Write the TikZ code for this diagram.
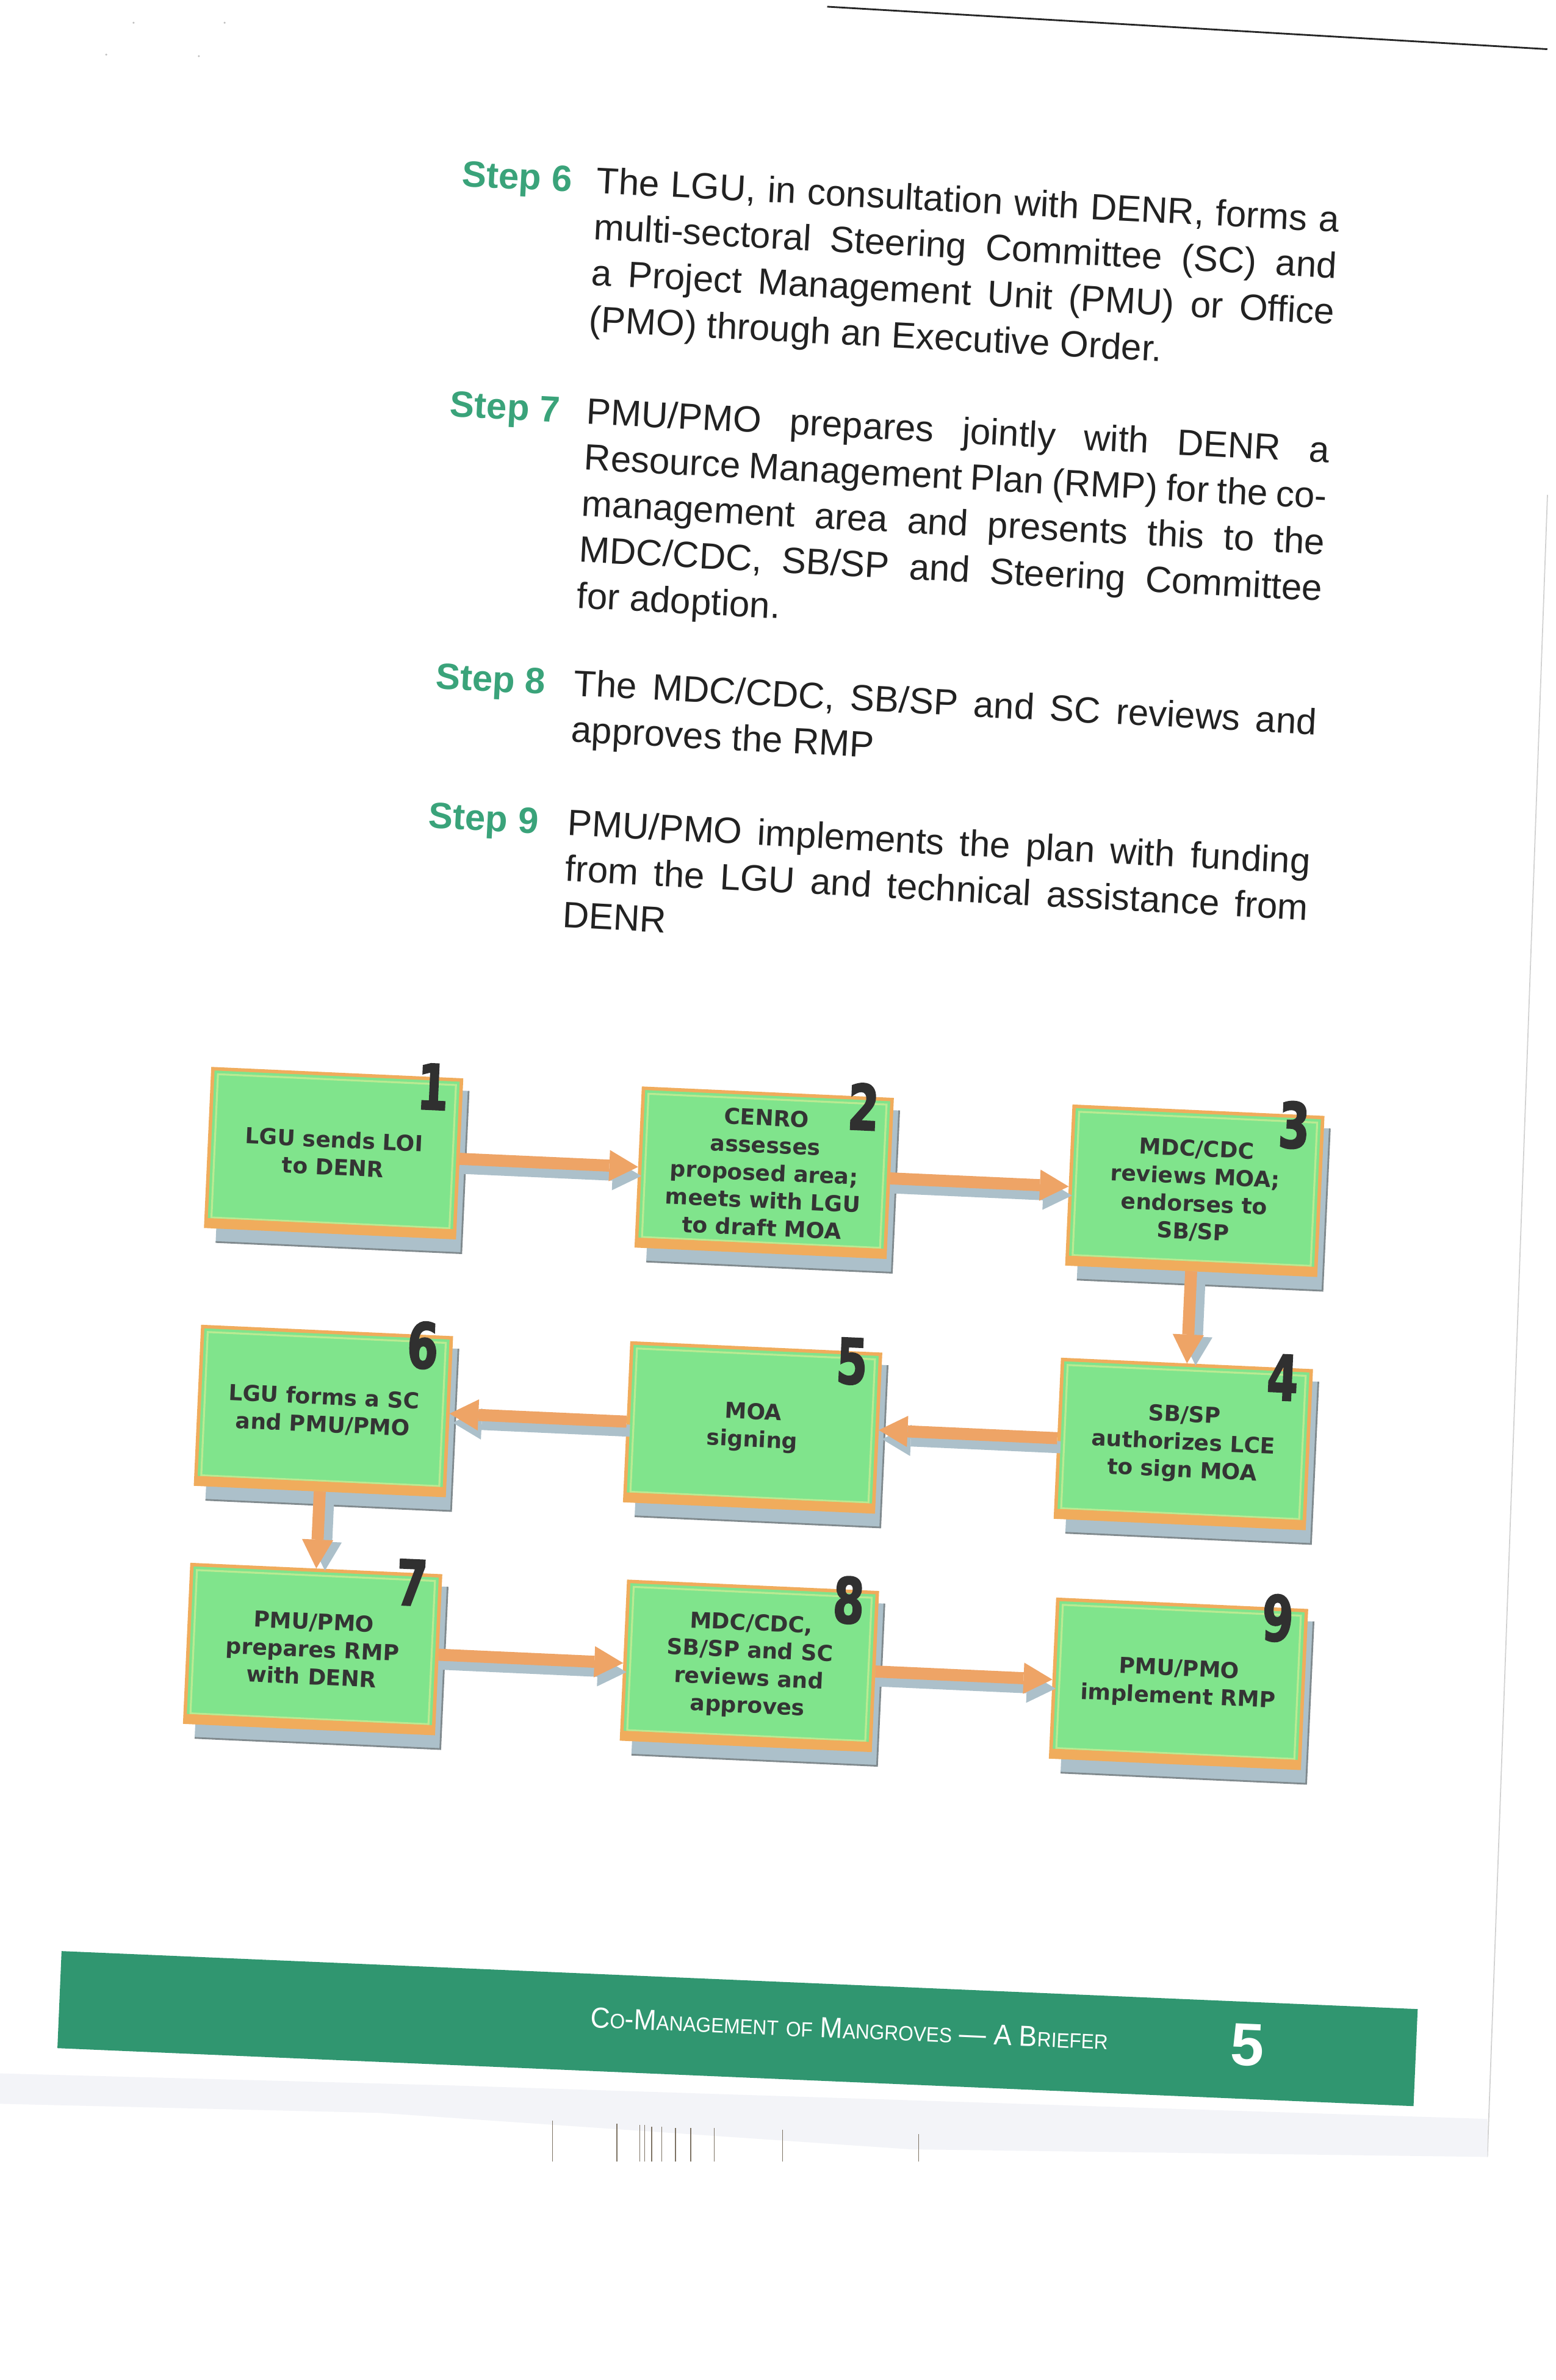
\documentclass[tikz,border=0pt]{standalone}
\usepackage{fontspec}
\usepackage{graphicx}
\setmainfont{Liberation Sans}
\newfontfamily\boxfont{DejaVu Sans}
\newfontfamily\numfont[FakeBold=2.5]{DejaVu Sans}
\usetikzlibrary{arrows.meta}

\definecolor{bargreen}{RGB}{48,150,112}
\definecolor{stepgreen}{RGB}{58,163,122}
\definecolor{inkc}{RGB}{34,34,34}
\definecolor{boxgreen}{RGB}{128,228,140}
\definecolor{boxorange}{RGB}{240,172,92}
\definecolor{arroworange}{RGB}{238,164,102}
\definecolor{shadowc}{RGB}{172,192,202}
\definecolor{shadowln}{RGB}{128,138,142}
\definecolor{innerc}{RGB}{186,234,146}
\definecolor{numc}{RGB}{48,48,48}
\definecolor{boxtext}{RGB}{52,52,52}
\definecolor{smudge}{RGB}{243,244,248}
\definecolor{barcode}{RGB}{125,115,100}

\newlength\jw \setlength\jw{345.5pt}
\newcommand\smc[1]{{\fontsize{9.3}{9.3}\selectfont #1}}

\tikzset{
  steplabel/.style={anchor=base west, inner sep=0pt, text=stepgreen,
    font=\fontsize{17}{20}\selectfont\bfseries},
  bodyline/.style={anchor=base west, inner sep=0pt, text=inkc,
    font=\fontsize{17}{20}\selectfont},
  stepnode/.style={rectangle, minimum width=115.6pt, minimum height=73.3pt,
    inner sep=0pt, fill=boxgreen, draw=boxorange, line width=1.6pt,
    align=center, text=boxtext,
    font=\boxfont\bfseries\fontsize{10.2}{12.8}\selectfont},
  innerframe/.style={draw=innerc, line width=0.9pt},
  shadowedge/.style={draw=shadowln, line width=0.8pt},
  numnode/.style={anchor=north east, inner sep=0pt, text=numc,
    font=\numfont\bfseries\fontsize{29}{29}\selectfont},
  flowarrow/.style={draw=arroworange, line width=5.6pt,
    -{Triangle[length=13.4pt,width=14.5pt,line width=0pt]}},
  arrowshade/.style={draw=shadowc, line width=5.6pt,
    -{Triangle[length=13.4pt,width=14.5pt,line width=0pt]}},
}

% name, x-left, y-top, number, text
\newcommand\flowbox[5]{%
  \fill[shadowc] (#2+7,#3+7) rectangle (#2+169,#3+114);
  \draw[shadowedge] (#2+7,#3+114) -- (#2+169,#3+114) -- (#2+169,#3+7);
  \node[stepnode] (#1) at (#2+82,#3+52) {#5};
  \draw[innerframe] (#2+3.5,#3+3.5) rectangle (#2+160.5,#3+98);
  \fill[boxorange] (#2,#3+98.5) rectangle (#2+164,#3+104);
  \node[numnode] (#1n) at (#2+156,#3-10) {\scalebox{0.72}[1]{#4}};
}

\begin{document}
\begin{tikzpicture}[x=0.705pt,y=-0.705pt]
\useasboundingbox (0,0) rectangle (1025,1568);
\fill[white] (0,0) rectangle (1025,1568);

% scan artefacts
\draw[black!85, line width=0.8pt] (545,4.4) -- (1019.5,32.4);
\draw[black!18, line width=0.5pt] (1019.6,326) -- (980,1421);
\foreach \px/\py in {88/15,148/15,70/36,131/37}
  \fill[black!25] (\px,\py) circle (0.7);
\fill[smudge] (0,1366) -- (300,1374) -- (980,1396) -- (980,1421) -- (600,1416) -- (250,1392) -- (0,1386) -- cycle;
\foreach \bx/\by in {364/1397,406.5/1399,421.6/1400,424.8/1400,429.3/1401,436/1401,445/1402,455/1402,470.6/1402,515.7/1403,605.3/1406}
  \draw[barcode, line width=0.45pt] (\bx,\by) -- (\bx,1424);

% ---------------- step text ----------------
\begin{scope}[rotate around={-3:(630,350)}, transform shape]
  \node[steplabel] (l6) at (292.5,140) {Step 6};
  \node[bodyline] (t6a) at (381,140) {\makebox[\jw][s]{The LGU, in consultation with DENR, forms a}};
  \node[bodyline] (t6b) at (381,170.4) {\makebox[\jw][s]{multi-sectoral Steering Committee (SC) and}};
  \node[bodyline] (t6c) at (381,200.8) {\makebox[\jw][s]{a Project Management Unit (PMU) or Office}};
  \node[bodyline] (t6d) at (381,231.2) {(PMO) through an Executive Order.};

  \node[steplabel] (l7) at (292.5,292) {Step 7};
  \node[bodyline] (t7a) at (382.6,292) {\makebox[\jw][s]{PMU/PMO prepares jointly with DENR a}};
  \node[bodyline] (t7b) at (382.6,322.4) {\makebox[\jw][s]{Resource Management Plan (RMP) for the co-}};
  \node[bodyline] (t7c) at (382.6,352.8) {\makebox[\jw][s]{management area and presents this to the}};
  \node[bodyline] (t7d) at (382.6,383.2) {\makebox[\jw][s]{MDC/CDC, SB/SP and Steering Committee}};
  \node[bodyline] (t7e) at (382.6,413.6) {for adoption.};

  \node[steplabel] (l8) at (292.5,471.4) {Step 8};
  \node[bodyline] (t8a) at (383.5,471.4) {\makebox[\jw][s]{The MDC/CDC, SB/SP and SC reviews and}};
  \node[bodyline] (t8b) at (383.5,501.8) {approves the RMP};

  \node[steplabel] (l9) at (292.5,563.3) {Step 9};
  \node[bodyline] (t9a) at (384.2,563.3) {\makebox[\jw][s]{PMU/PMO implements the plan with funding}};
  \node[bodyline] (t9b) at (384.2,593.7) {\makebox[\jw][s]{from the LGU and technical assistance from}};
  \node[bodyline] (t9c) at (384.2,624.1) {DENR};
\end{scope}

% ---------------- flow chart ----------------
\begin{scope}[rotate around={-2.6:(512,784)}, transform shape]
  \flowbox{b1}{137}{721}{1}{LGU sends LOI\\to DENR}
  \flowbox{b2}{421}{721}{2}{CENRO\\assesses\\proposed area;\\meets with LGU\\to draft MOA}
  \flowbox{b3}{705}{720}{3}{MDC/CDC\\reviews MOA;\\endorses to\\SB/SP}
  \flowbox{b4}{705}{887}{4}{SB/SP\\authorizes LCE\\to sign MOA}
  \flowbox{b5}{421}{889}{5}{MOA\\signing}
  \flowbox{b6}{138}{891}{6}{LGU forms a SC\\and PMU/PMO}
  \flowbox{b7}{138}{1048}{7}{PMU/PMO\\prepares RMP\\with DENR}
  \flowbox{b8}{426}{1046}{8}{MDC/CDC,\\SB/SP and SC\\reviews and\\approves}
  \flowbox{b9}{709}{1045}{9}{PMU/PMO\\implement RMP}

  % arrow shadows
  \begin{scope}[transform canvas={shift={(1.5pt,-4.2pt)}}]
    \draw[arrowshade] (b1.east) -- (b1.east -| b2.west);
    \draw[arrowshade] (b2.east) -- (b2.east -| b3.west);
    \draw[arrowshade] (b4.west) -- (b4.west -| b5.east);
    \draw[arrowshade] (b5.west) -- (b5.west -| b6.east);
    \draw[arrowshade] (b7.east) -- (b7.east -| b8.west);
    \draw[arrowshade] (b8.east) -- (b8.east -| b9.west);
  \end{scope}
  \begin{scope}[transform canvas={shift={(4pt,-1pt)}}]
    \draw[arrowshade] (b3.south) -- (b3.south |- b4.north);
    \draw[arrowshade] (b6.south) -- (b6.south |- b7.north);
  \end{scope}
  % arrows
  \draw[flowarrow] (b1.east) -- (b1.east -| b2.west);
  \draw[flowarrow] (b2.east) -- (b2.east -| b3.west);
  \draw[flowarrow] (b3.south) -- (b3.south |- b4.north);
  \draw[flowarrow] (b4.west) -- (b4.west -| b5.east);
  \draw[flowarrow] (b5.west) -- (b5.west -| b6.east);
  \draw[flowarrow] (b6.south) -- (b6.south |- b7.north);
  \draw[flowarrow] (b7.east) -- (b7.east -| b8.west);
  \draw[flowarrow] (b8.east) -- (b8.east -| b9.west);
\end{scope}

% ---------------- footer ----------------
\begin{scope}[rotate around={-2.45:(512,1336)}, transform shape]
  \fill[bargreen] (38.8,1305.6) rectangle (933.2,1369.6);
  \node[anchor=base west, inner sep=0pt, text=white] (ftitle) at (388.7,1341)
    {\resizebox{240.6pt}{9.4pt}{\fontsize{13}{13}\selectfont C\smc{O}-M\smc{ANAGEMENT} \smc{OF} M\smc{ANGROVES} --- A B\smc{RIEFER}}};
  \node[anchor=north, inner sep=0pt, text=white,
    font=\bfseries\fontsize{28}{28}\selectfont] (pnum) at (822.3,1319.8) {5};
\end{scope}
\end{tikzpicture}
\end{document}
